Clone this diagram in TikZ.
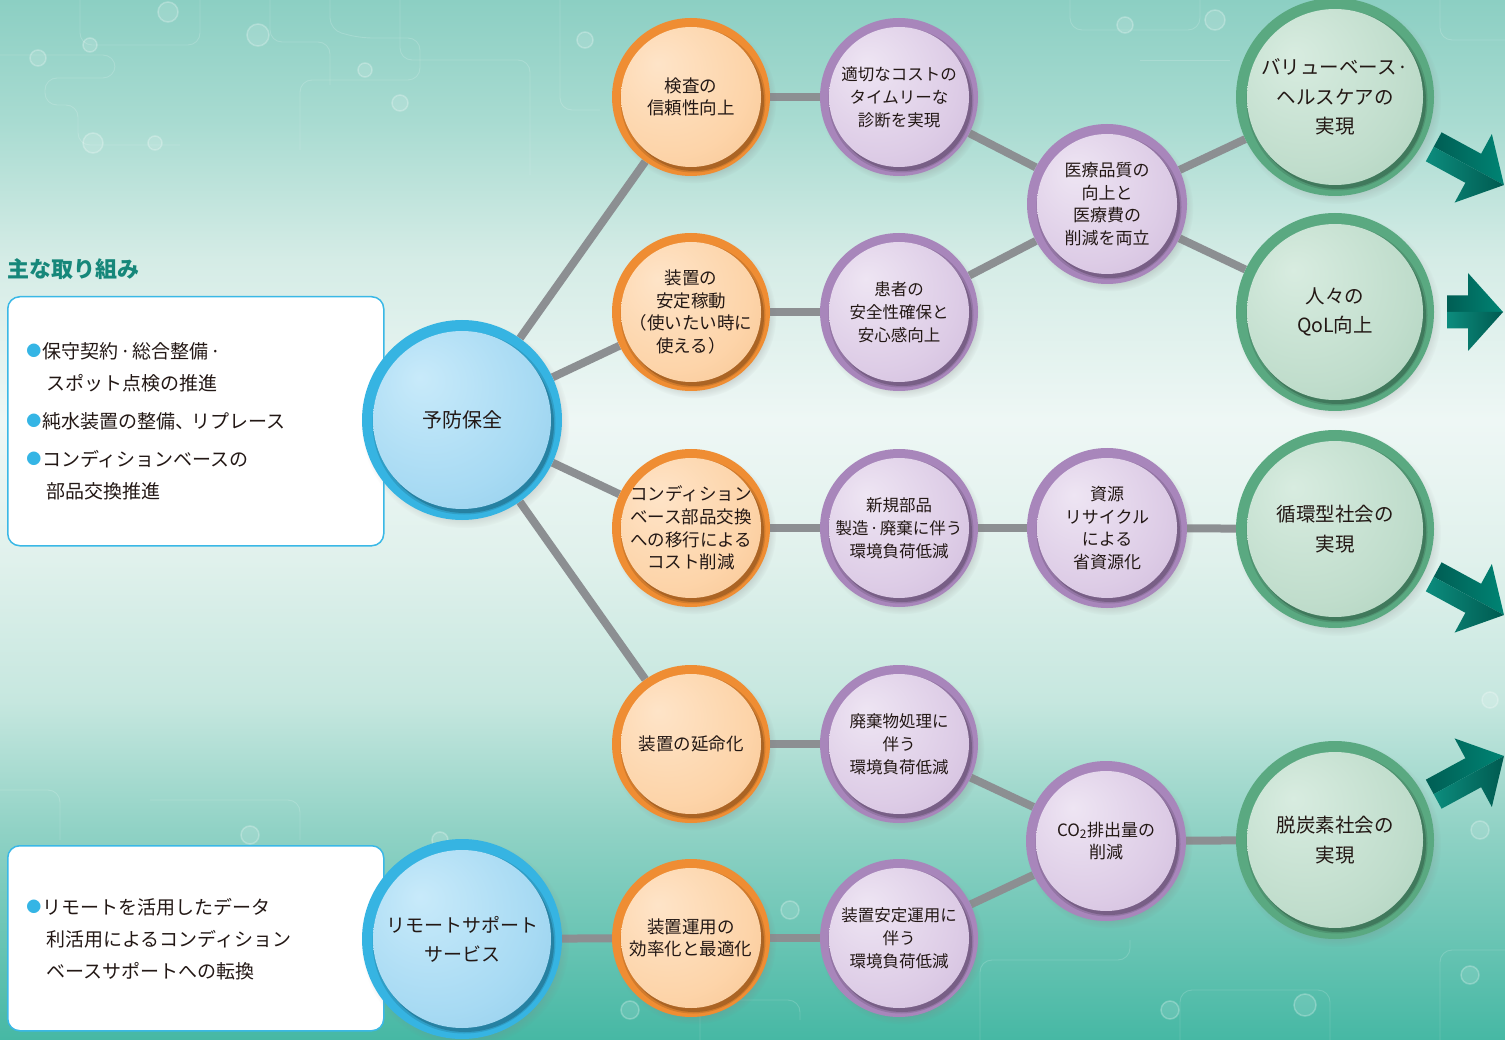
\documentclass[tikz,border=0pt]{standalone}
\usepackage{fontspec}
\setmainfont{Noto Sans CJK JP}
\usetikzlibrary{shadows,fadings}
\definecolor{txt}{HTML}{231815}
\definecolor{ttl}{HTML}{16877A}
\definecolor{bul}{HTML}{35B5E5}
\definecolor{boxb}{HTML}{3AB8E6}
\definecolor{lineg}{HTML}{8C8F92}
\definecolor{orRing}{HTML}{EF8D33}
\definecolor{puRing}{HTML}{A886BB}
\definecolor{blRing}{HTML}{36B4E2}
\definecolor{grRing}{HTML}{5AA981}
\definecolor{orA}{HTML}{FEE4C8}\definecolor{orB}{HTML}{FDD4A9}\definecolor{orC}{HTML}{F5BE88}
\definecolor{puA}{HTML}{EEE5F3}\definecolor{puB}{HTML}{DDCCE6}\definecolor{puC}{HTML}{CBB4D8}
\definecolor{blA}{HTML}{C8EAFA}\definecolor{blB}{HTML}{A7DAF3}\definecolor{blC}{HTML}{88C8E8}
\definecolor{grA}{HTML}{D8ECE0}\definecolor{grB}{HTML}{C0DDCC}\definecolor{grC}{HTML}{A6CDB6}
\definecolor{bg0}{HTML}{46B8A4}\definecolor{bg1}{HTML}{90D2C5}\definecolor{bg2}{HTML}{C6E7DF}
\definecolor{bg3}{HTML}{E0F1EC}\definecolor{bg4}{HTML}{EEF7F5}\definecolor{bg5}{HTML}{D5ECE6}
\definecolor{bg6}{HTML}{A8DBD1}\definecolor{bg7}{HTML}{8CCFC3}
\definecolor{arA}{HTML}{005E54}\definecolor{arB}{HTML}{008474}
\definecolor{arC}{HTML}{0C8C7D}\definecolor{arD}{HTML}{005A50}
\pgfdeclareradialshading{orball}{\pgfpoint{-12bp}{12bp}}{color(0bp)=(orA); color(28bp)=(orB); color(50bp)=(orC); color(70bp)=(orC)}
\pgfdeclareradialshading{puball}{\pgfpoint{-12bp}{12bp}}{color(0bp)=(puA); color(28bp)=(puB); color(50bp)=(puC); color(70bp)=(puC)}
\pgfdeclareradialshading{blball}{\pgfpoint{-12bp}{12bp}}{color(0bp)=(blA); color(28bp)=(blB); color(50bp)=(blC); color(70bp)=(blC)}
\pgfdeclareradialshading{grball}{\pgfpoint{-12bp}{12bp}}{color(0bp)=(grA); color(28bp)=(grB); color(50bp)=(grC); color(70bp)=(grC)}
\pgfdeclareverticalshading{bgshade}{100bp}{color(0bp)=(bg0); color(25bp)=(bg0); color(35.1bp)=(bg1); color(41.3bp)=(bg2); color(48.1bp)=(bg3); color(54.8bp)=(bg4); color(62.5bp)=(bg5); color(69.2bp)=(bg6); color(75bp)=(bg7); color(100bp)=(bg7)}
\pgfdeclarelayer{bg}
\pgfdeclarelayer{lines}
\pgfsetlayers{bg,lines,main}
\newcommand\innerdisc[2]{%
  \fill[black,opacity=.12] ([shift={(2pt,-3pt)}]path picture bounding box.center) circle[radius=#2+2.5pt];
  \fill[black,opacity=.18] ([shift={(3pt,-4pt)}]path picture bounding box.center) circle[radius=#2];
  \shade[shading=#1] (path picture bounding box.center) circle[radius=#2];}
\newcommand\tarrow[4]{%
  \begin{scope}[shift={(#1,#2)}, rotate=#3]
    \shade[left color=arA, right color=arB] (-#4,-16.5) -- (-35,-16.5) -- (-35,-39) -- (0,0) -- (-#4,0) -- cycle;
    \shade[left color=arC, right color=arD] (-#4,0) -- (0,0) -- (-35,39) -- (-35,16.5) -- (-#4,16.5) -- cycle;
  \end{scope}}
\newcommand\mdot{\kern2pt·\kern2pt}
\tikzset{
  bubble/.style={circle, inner sep=0pt, align=center, text=txt,
    circular drop shadow={shadow xshift=3pt, shadow yshift=-4pt, opacity=.35, shadow scale=1.04}},
  orangeb/.style={bubble, fill=orRing, minimum size=158pt, font=\fontsize{17.5}{22.6}\selectfont,
    path picture={\innerdisc{orball}{70pt}}},
  purpleb/.style={bubble, fill=puRing, minimum size=158pt, font=\fontsize{16.5}{23}\selectfont,
    path picture={\innerdisc{puball}{70pt}}},
  purplec/.style={purpleb, minimum size=160pt, font=\fontsize{17}{22.7}\selectfont},
  blueb/.style={bubble, fill=blRing, minimum size=200pt, font=\fontsize{19}{29}\selectfont,
    path picture={\innerdisc{blball}{89pt}}},
  greenb/.style={bubble, fill=grRing, minimum size=198pt, font=\fontsize{19.5}{29.5}\selectfont,
    path picture={\innerdisc{grball}{88pt}}},
  conn/.style={draw=lineg, line width=8pt},
  infobox/.style={draw=boxb, line width=1.5pt, fill=white, rounded corners=12pt, anchor=north west, inner sep=0pt},
  btext/.style={anchor=west, inner sep=0pt, text=txt, font=\fontsize{19}{19}\selectfont},
  bdot/.style={inner sep=0pt, text=bul, font=\fontsize{15}{15}\selectfont},
  deco/.style={draw=white, opacity=.16, line width=.9pt, rounded corners=12pt},
  decodot/.style={fill=white, opacity=.13, draw=white, draw opacity=.25, line width=1.5pt}
}
\begin{document}
\begin{tikzpicture}[x=1pt,y=-1pt]
\useasboundingbox (0,0) rectangle (1505,1040);
\begin{pgfonlayer}{bg}
  \shade[shading=bgshade] (0,0) rectangle (1505,1040);
  % faint circuit texture
  \draw[deco] (80,0) -- (80,45) -- (200,45) -- (200,0);
  \draw[deco] (0,55) -- (115,55) -- (115,78) -- (45,78) -- (45,105) -- (78,105) -- (78,145) -- (180,145);
  \draw[deco] (270,0) -- (270,42) -- (330,42) -- (330,85);
  \draw[deco] (330,0) -- (330,30) -- (360,38) -- (420,38) -- (420,80) -- (300,80) -- (300,150);
  \draw[deco] (400,0) -- (400,60) -- (530,60) -- (530,175);
  \draw[deco] (560,0) -- (560,110) -- (600,110);
  \draw[deco] (1070,0) -- (1070,30) -- (1200,30) -- (1200,0);
  \draw[deco] (1140,60) -- (1230,60);
  \draw[deco] (1440,0) -- (1440,40) -- (1505,40);
  \draw[deco] (980,1040) -- (980,960) -- (1130,960) -- (1130,940);
  \draw[deco] (1180,1040) -- (1180,990) -- (1330,990) -- (1330,1040);
  \draw[deco] (700,1040) -- (700,1000) -- (800,1000) -- (800,1020);
  \draw[deco] (1440,1040) -- (1440,950) -- (1505,950);
  \draw[deco] (0,790) -- (60,790) -- (60,840);
  \draw[deco] (150,800) -- (300,800) -- (300,840);
  \fill[decodot] (168,12) circle (10pt); \fill[decodot] (90,45) circle (7pt);
  \fill[decodot] (258,35) circle (11pt); \fill[decodot] (38,58) circle (8pt);
  \fill[decodot] (93,143) circle (10pt); \fill[decodot] (155,143) circle (7pt);
  \fill[decodot] (365,70) circle (7pt); \fill[decodot] (400,103) circle (8pt);
  \fill[decodot] (585,40) circle (8pt); \fill[decodot] (1125,25) circle (8pt);
  \fill[decodot] (1215,20) circle (10pt); \fill[decodot] (1370,25) circle (9pt);
  \fill[decodot] (790,910) circle (9pt); \fill[decodot] (630,1010) circle (9pt);
  \fill[decodot] (1170,1010) circle (9pt); \fill[decodot] (1305,1005) circle (11pt);
  \fill[decodot] (1470,975) circle (9pt); \fill[decodot] (960,930) circle (9pt);
  \fill[decodot] (440,840) circle (8pt); \fill[decodot] (250,835) circle (9pt);
  \fill[decodot] (1480,830) circle (9pt); \fill[decodot] (1490,700) circle (8pt);
\end{pgfonlayer}

% title and boxes
\node[anchor=west, inner sep=0pt, text=ttl, font=\fontsize{22}{22}\selectfont\bfseries] (title) at (7,269) {主な取り組み};
\node[infobox, minimum width=376pt, minimum height=249pt] (box1) at (7,296) {};
\node[infobox, minimum width=376pt, minimum height=185pt] (box2) at (7,845) {};

\node[bdot] (d1) at (34,351) {●};
\node[btext] (t1a) at (42,351) {保守契約\mdot 総合整備\mdot};
\node[btext] (t1b) at (46,383) {スポット点検の推進};
\node[bdot] (d2) at (34,421) {●};
\node[btext] (t2a) at (42,421) {純水装置の整備、\kern-3ptリプレース};
\node[bdot] (d3) at (34,459) {●};
\node[btext] (t3a) at (42,459) {コンディションベースの};
\node[btext] (t3b) at (46,491) {部品交換推進};

\node[bdot] (d4) at (34,907) {●};
\node[btext] (t4a) at (42,907) {リモートを活用したデータ};
\node[btext] (t4b) at (46,939) {利活用によるコンディション};
\node[btext] (t4c) at (46,971) {ベースサポートへの転換};

% bubbles
\node[blueb, font=\fontsize{20}{26}\selectfont] (yobo) at (462,420) {予防保全};
\node[blueb] (remote) at (462,939) {リモートサポート\\サービス};

\node[orangeb] (o1) at (691,97) {検査の\\信頼性向上};
\node[orangeb] (o2) at (691,312) {装置の\\安定稼動\\（使いたい時に\\使える）};
\node[orangeb] (o3) at (691,528) {コンディション\\ベース部品交換\\への移行による\\コスト削減};
\node[orangeb] (o4) at (691,744) {装置の延命化};
\node[orangeb] (o5) at (691,938) {装置運用の\\効率化と最適化};

\node[purpleb] (p1) at (899,97) {適切なコストの\\タイムリーな\\診断を実現};
\node[purpleb] (p2) at (899,312) {患者の\\安全性確保と\\安心感向上};
\node[purpleb] (p3) at (899,528) {新規部品\\製造\kern1pt·\kern1pt廃棄に伴う\\環境負荷低減};
\node[purpleb] (p4) at (899,744) {廃棄物処理に\\伴う\\環境負荷低減};
\node[purpleb] (p5) at (899,938) {装置安定運用に\\伴う\\環境負荷低減};

\node[purplec] (q1) at (1107,204) {医療品質の\\向上と\\医療費の\\削減を両立};
\node[purplec] (q2) at (1107,528) {資源\\リサイクル\\による\\省資源化};
\node[purplec] (q3) at (1106,841) {CO\textsubscript{2}排出量の\\削減};

\node[greenb] (g1) at (1335,97) {バリューベース\kern1pt·\\ヘルスケアの\\実現};
\node[greenb] (g2) at (1335,312) {人々の\\QoL向上};
\node[greenb] (g3) at (1335,529) {循環型社会の\\実現};
\node[greenb] (g4) at (1335,840) {脱炭素社会の\\実現};

% connectors
\begin{pgfonlayer}{lines}
  \draw[conn] (yobo) -- (o1);
  \draw[conn] (yobo) -- (o2);
  \draw[conn] (yobo) -- (o3);
  \draw[conn] (yobo) -- (o4);
  \draw[conn] (remote) -- (o5);
  \draw[conn] (o1) -- (p1);
  \draw[conn] (o2) -- (p2);
  \draw[conn] (o3) -- (p3);
  \draw[conn] (o4) -- (p4);
  \draw[conn] (o5) -- (p5);
  \draw[conn] (p1) -- (q1);
  \draw[conn] (p2) -- (q1);
  \draw[conn] (q1) -- (g1);
  \draw[conn] (q1) -- (g2);
  \draw[conn] (p3) -- (q2);
  \draw[conn] (q2) -- (g3);
  \draw[conn] (p4) -- (q3);
  \draw[conn] (p5) -- (q3);
  \draw[conn] (q3) -- (g4);
\end{pgfonlayer}

% arrows at the right edge
\tarrow{1504}{185}{-28.5}{80}
\tarrow{1503}{312}{0}{56}
\tarrow{1504}{615}{-28.5}{80}
\tarrow{1504}{756}{28.5}{80}
\end{tikzpicture}
\end{document}
